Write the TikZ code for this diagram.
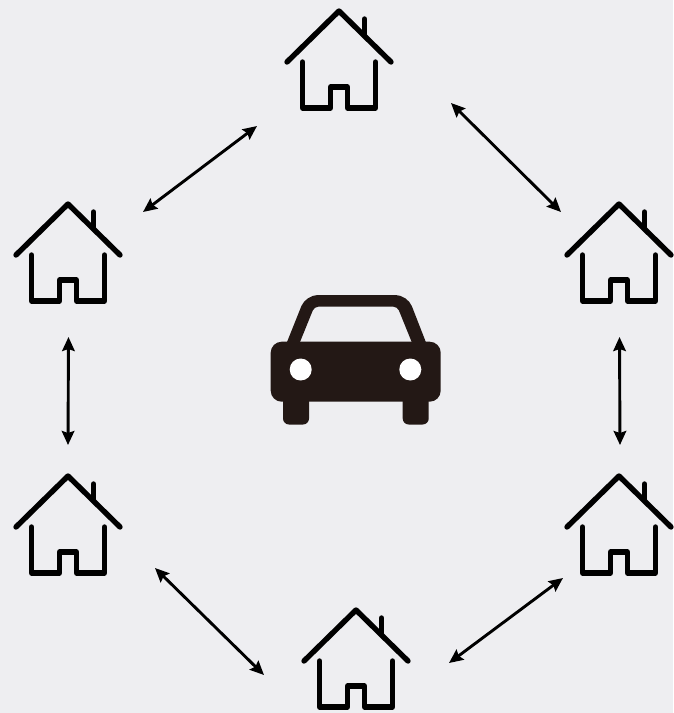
\documentclass[tikz,border=0pt]{standalone}
\usetikzlibrary{arrows.meta}
\definecolor{bgc}{RGB}{238,238,241}
\definecolor{carc}{RGB}{35,24,21}
\tikzset{
  x=1pt,y=-1pt,
  houseline/.style={draw=black,line width=5.4pt,line cap=round,line join=round},
  housebox/.style={inner sep=0pt,minimum width=104pt,minimum height=98pt},
  link/.style={draw=black,line width=2.9pt,{Stealth[length=14pt,width=12.5pt,inset=2pt]}-{Stealth[length=14pt,width=12.5pt,inset=2pt]}},
  house/.pic={
    \draw[houseline] (-52,51)--(0,0)--(52,51);
    \draw[houseline] (25.5,8)--(25.5,24);
    \draw[houseline] (-36.5,51)--(-36.5,97)--(-8.5,97)--(-8.5,76)--(8.5,76)--(8.5,97)--(36.5,97)--(36.5,51);
  }
}
\begin{document}
\begin{tikzpicture}
\useasboundingbox (0,0) rectangle (673,713);
\fill[bgc] (0,0) rectangle (673,713);
% houses
\node[housebox] (h1) at (339,60) {}; \pic at (339,11) {house};
\node[housebox] (h2) at (68,253) {}; \pic at (68,204) {house};
\node[housebox] (h3) at (619,253) {}; \pic at (619,204) {house};
\node[housebox] (h4) at (68,525) {}; \pic at (68,476) {house};
\node[housebox] (h5) at (619,525) {}; \pic at (619,476) {house};
\node[housebox] (h6) at (356,659) {}; \pic at (356,610) {house};
% car
\node[inner sep=0pt,minimum width=170pt,minimum height=130pt] (car) at (355.7,359.5) {};
\fill[carc,rounded corners=11pt] (270.7,341.7) rectangle (440.7,401.7);
\fill[carc,rounded corners=6pt] (283,390) rectangle (309,424.5);
\fill[carc,rounded corners=6pt] (402.7,390) rectangle (428.7,424.5);
\fill[carc,even odd rule]
  (285.8,345) [rounded corners=12pt] --(305.8,295)--(407.5,295) [sharp corners] --(427,345)--cycle
  (300,342) [rounded corners=4pt] --(314.3,306.7)--(397.4,306.7) [sharp corners] --(411.7,342)--cycle;
\fill[white] (300.7,369.5) circle (11);
\fill[white] (410.3,369.5) circle (11);
% arrow ends
\coordinate (a1) at (257,126); \coordinate (a2) at (143,212);
\coordinate (b1) at (451,103); \coordinate (b2) at (561,212);
\coordinate (c1) at (68.5,337); \coordinate (c2) at (68,445);
\coordinate (d1) at (619.5,337); \coordinate (d2) at (620,445);
\coordinate (e1) at (155,568); \coordinate (e2) at (264,675);
\coordinate (f1) at (563,578); \coordinate (f2) at (449,663);
\draw[link] (a1)--(a2);
\draw[link] (b1)--(b2);
\draw[link] (c1)--(c2);
\draw[link] (d1)--(d2);
\draw[link] (e1)--(e2);
\draw[link] (f1)--(f2);
\end{tikzpicture}
\end{document}
